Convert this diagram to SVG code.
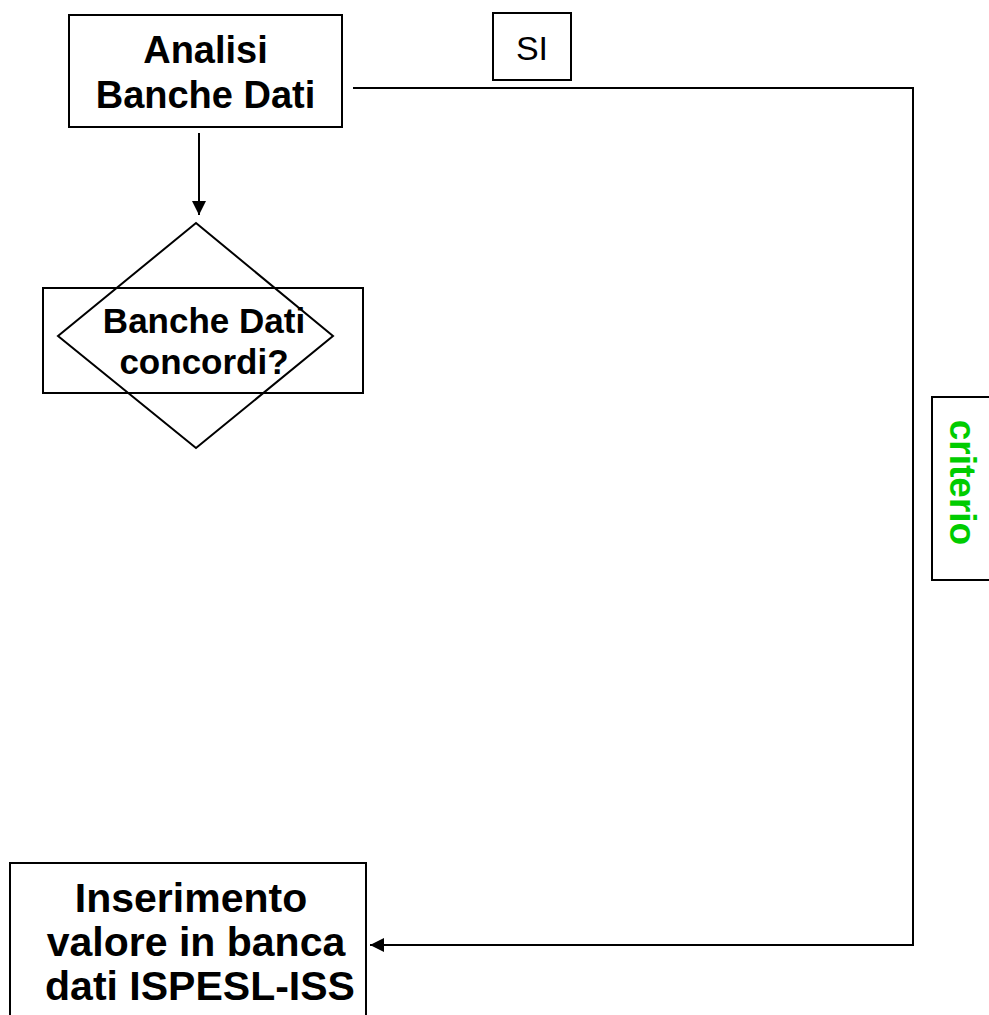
<svg xmlns="http://www.w3.org/2000/svg" width="989" height="1015" viewBox="0 0 989 1015">
  <defs>
    <style>
      .box { fill: #fff; stroke: #000; stroke-width: 2; }
      .shape { fill: none; stroke: #000; stroke-width: 2; }
      .line { fill: none; stroke: #000; stroke-width: 2; }
      .lbl { font-family: "Liberation Sans", Arial, sans-serif; font-weight: bold; fill: #000; text-anchor: middle; }
    </style>
    <marker id="arrow" viewBox="0 0 14 14" refX="14" refY="7" markerWidth="14" markerHeight="14" markerUnits="userSpaceOnUse" orient="auto">
      <path d="M0,0 L14,7 L0,14 Z" fill="#000"/>
    </marker>
  </defs>
  <rect width="989" height="1015" fill="#fff"/>

  <g id="connectors">
    <line class="line" x1="199" y1="133" x2="199" y2="215" marker-end="url(#arrow)"/>
    <polyline class="line" points="353,88 913,88 913,945 370,945" marker-end="url(#arrow)"/>
  </g>

  <g id="analisi">
    <rect class="box" x="69" y="15" width="273" height="112"/>
    <text class="lbl" x="205.5" y="63" font-size="38">Analisi</text>
    <text class="lbl" x="205.5" y="108" font-size="38">Banche Dati</text>
  </g>

  <g id="decision">
    <rect class="shape" x="43" y="288" width="320" height="105"/>
    <polygon class="shape" points="196,223 333,336 196,448 58,336"/>
    <text class="lbl" x="204" y="333" font-size="35">Banche Dati</text>
    <text class="lbl" x="204" y="374" font-size="35">concordi?</text>
  </g>

  <g id="si">
    <rect class="box" x="493" y="13" width="78" height="67"/>
    <text x="532" y="60" font-size="34" font-family="'Liberation Sans', Arial, sans-serif" text-anchor="middle" fill="#000">SI</text>
  </g>

  <g id="criterio">
    <rect class="box" x="932" y="397" width="70" height="183"/>
    <text class="lbl" transform="translate(950,482.5) rotate(90)" font-size="37" style="fill:#00CC00">criterio</text>
  </g>

  <g id="inserimento">
    <rect class="box" x="10" y="863" width="356" height="170"/>
    <text class="lbl" x="191" y="912" font-size="41">Inserimento</text>
    <text class="lbl" x="196" y="956" font-size="41">valore in banca</text>
    <text class="lbl" x="200" y="1000" font-size="41">dati ISPESL-ISS</text>
  </g>
</svg>
